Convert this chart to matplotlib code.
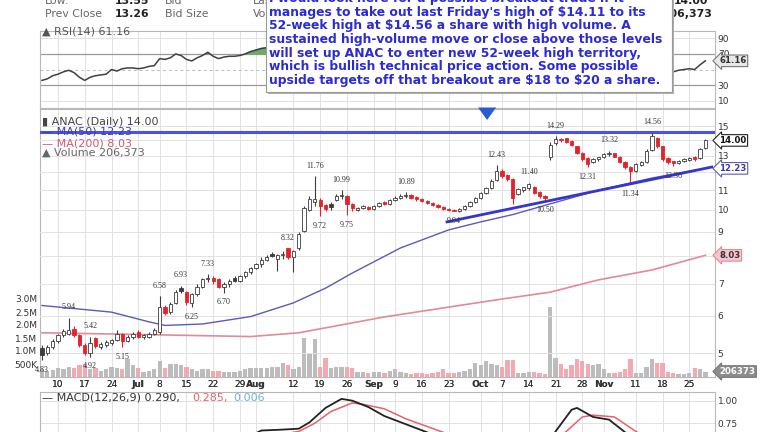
import numpy as np
import pandas as pd
import matplotlib
matplotlib.use('Agg')
import matplotlib.pyplot as plt
from matplotlib.patches import Rectangle

# ANAC daily, Jun - Nov 2019
holidays = ['2019-07-04', '2019-09-02', '2019-11-28']
first = 2  # first visible session (Jun 5) as index into the trading calendar

open_ = [5.13, 5.00, 5.15, 5.30, 5.45, 5.50, 5.62, 5.45, 5.20, 5.00,
         5.38, 5.15, 5.20, 5.25, 5.32, 5.48, 5.30, 5.40, 5.55, 5.40,
         5.42, 5.50, 5.55, 6.25, 6.10, 6.38, 6.85, 6.72, 6.38, 6.65,
         6.90, 7.15, 7.20, 7.15, 6.90, 7.00, 7.20, 7.10, 7.25, 7.40,
         7.55, 7.70, 7.85, 8.10, 7.90, 8.05, 8.30, 7.95, 8.30, 9.05,
         10.00, 10.40, 10.50, 10.25, 10.30, 10.50, 10.70, 10.70, 10.30, 10.00,
         10.10, 10.15, 10.05, 10.20, 10.40, 10.30, 10.50, 10.60, 10.70, 10.75,
         10.65, 10.55, 10.45, 10.35, 10.25, 10.15, 10.05, 10.00, 9.95, 10.05,
         10.20, 10.40, 10.60, 10.85, 11.10, 11.55, 12.10, 11.85, 11.60, 10.80,
         11.00, 11.10, 11.20, 10.90, 10.70, 12.90, 13.80, 14.10, 14.15, 13.95,
         13.60, 13.20, 12.85, 12.60, 12.80, 12.90, 13.10, 13.15, 12.95, 12.60,
         12.30, 12.10, 12.45, 12.60, 13.35, 14.20, 13.60, 12.85, 12.65, 12.55,
         12.70, 12.75, 12.95, 12.85, 13.50]
high = [5.21, 5.20, 5.35, 5.50, 5.62, 5.94, 5.70, 5.50, 5.25, 5.42,
        5.40, 5.27, 5.32, 5.36, 5.60, 5.52, 5.47, 5.55, 5.60, 5.50,
        5.55, 5.65, 6.58, 6.30, 6.40, 6.78, 6.93, 6.75, 6.70, 7.00,
        7.20, 7.33, 7.25, 7.20, 7.05, 7.15, 7.25, 7.30, 7.45, 7.60,
        7.75, 7.95, 8.05, 8.15, 8.10, 8.20, 8.32, 8.25, 9.00, 10.20,
        10.70, 11.76, 10.60, 10.30, 10.40, 10.80, 10.99, 10.75, 10.35, 10.15,
        10.25, 10.20, 10.25, 10.40, 10.45, 10.55, 10.70, 10.80, 10.89, 10.80,
        10.70, 10.60, 10.50, 10.40, 10.30, 10.20, 10.10, 10.05, 10.10, 10.25,
        10.45, 10.65, 10.90, 11.20, 11.60, 12.43, 12.20, 11.90, 11.65, 11.10,
        11.20, 11.40, 11.25, 10.95, 10.75, 13.90, 14.29, 14.20, 14.20, 14.00,
        13.65, 13.25, 12.90, 12.85, 12.95, 13.15, 13.32, 13.20, 13.00, 12.65,
        12.35, 12.55, 12.70, 13.40, 14.56, 14.25, 13.65, 12.90, 12.70, 12.75,
        12.85, 12.90, 13.00, 13.50, 14.10]
low = [4.83, 4.95, 5.10, 5.25, 5.40, 5.45, 5.40, 5.15, 4.95, 4.92,
       5.12, 5.10, 5.15, 5.20, 5.30, 5.15, 5.27, 5.36, 5.38, 5.35,
       5.38, 5.45, 5.50, 6.02, 6.05, 6.35, 6.68, 6.30, 6.25, 6.60,
       6.85, 7.05, 7.00, 6.85, 6.70, 6.90, 7.05, 7.05, 7.20, 7.35,
       7.50, 7.60, 7.80, 7.95, 7.45, 7.90, 7.90, 7.40, 8.25, 9.00,
       9.95, 10.20, 9.72, 9.95, 10.00, 10.45, 10.55, 9.75, 9.95, 9.95,
       10.05, 10.00, 10.00, 10.15, 10.25, 10.25, 10.45, 10.55, 10.60, 10.55,
       10.45, 10.40, 10.30, 10.20, 10.10, 10.00, 9.95, 9.94, 9.90, 10.00,
       10.15, 10.35, 10.55, 10.80, 11.05, 11.50, 11.70, 11.50, 10.30, 10.75,
       10.90, 11.00, 10.80, 10.60, 10.50, 12.75, 13.70, 13.90, 13.85, 13.60,
       13.10, 12.70, 12.31, 12.55, 12.70, 12.85, 13.00, 12.90, 12.55, 12.20,
       11.34, 12.00, 12.40, 12.55, 13.30, 13.50, 12.70, 12.50, 12.36, 12.50,
       12.60, 12.65, 12.70, 12.80, 13.45]
close = [4.95, 5.15, 5.30, 5.45, 5.58, 5.60, 5.45, 5.20, 5.00, 5.25,
         5.17, 5.22, 5.28, 5.32, 5.50, 5.30, 5.42, 5.50, 5.42, 5.45,
         5.50, 5.60, 6.25, 6.08, 6.35, 6.72, 6.75, 6.40, 6.65, 6.90,
         7.15, 7.20, 7.10, 6.90, 7.00, 7.10, 7.10, 7.25, 7.40, 7.55,
         7.70, 7.85, 7.95, 8.00, 8.05, 8.10, 7.95, 8.20, 8.90, 10.10,
         10.55, 10.55, 10.20, 10.05, 10.15, 10.70, 10.75, 10.30, 10.10, 10.10,
         10.20, 10.05, 10.20, 10.35, 10.30, 10.50, 10.60, 10.70, 10.75, 10.60,
         10.55, 10.45, 10.35, 10.25, 10.15, 10.05, 9.98, 9.97, 10.05, 10.20,
         10.40, 10.60, 10.85, 11.10, 11.50, 12.10, 11.80, 11.60, 10.60, 11.05,
         11.15, 11.35, 10.85, 10.70, 10.60, 13.70, 14.10, 14.05, 13.90, 13.70,
         13.20, 12.80, 12.50, 12.80, 12.90, 13.10, 13.15, 12.95, 12.60, 12.30,
         12.05, 12.50, 12.60, 13.30, 14.30, 13.60, 12.80, 12.60, 12.55, 12.70,
         12.80, 12.85, 12.80, 13.40, 14.00]
volume = [0.30, 0.25, 0.28, 0.35, 0.30, 0.40, 0.35, 0.45, 0.50, 0.30,
          0.35, 0.25, 0.30, 0.40, 0.35, 0.30, 0.70, 0.45, 0.35, 0.20,
          0.25, 0.30, 0.60, 0.35, 0.50, 0.50, 0.45, 0.40, 0.30, 0.25,
          0.30, 0.30, 0.25, 0.25, 0.20, 0.20, 0.20, 0.25, 0.30, 0.35,
          0.35, 0.35, 0.35, 0.40, 0.40, 0.55, 0.45, 0.30, 0.40, 1.50,
          0.90, 1.45, 0.40, 0.75, 0.35, 0.40, 0.40, 0.40, 0.35, 0.20,
          0.20, 0.15, 0.20, 0.20, 0.15, 0.25, 0.30, 0.20, 0.15, 0.10,
          0.15, 0.15, 0.12, 0.15, 0.20, 0.30, 0.15, 0.15, 0.20, 0.25,
          0.30, 0.55, 0.45, 0.60, 0.50, 0.45, 0.40, 0.65, 0.65, 0.15,
          0.15, 0.20, 0.20, 0.15, 0.10, 2.70, 0.75, 0.50, 0.30, 0.45,
          0.70, 0.60, 0.50, 0.45, 0.50, 0.30, 0.15, 0.15, 0.20, 0.30,
          0.70, 0.15, 0.15, 0.40, 0.70, 0.55, 0.55, 0.20, 0.15, 0.10,
          0.10, 0.15, 0.35, 0.30, 0.21]
rsi = [36, 38, 42, 44, 47, 49, 46, 40, 36, 40,
       42, 43, 44, 50, 48, 51, 52, 52, 51, 52,
       54, 55, 64, 63, 65, 70, 68, 63, 61, 65,
       68, 72, 67, 64, 66, 67, 67, 68, 70, 73,
       75, 77, 78, 76, 74, 76, 72, 74, 80, 86,
       87, 85, 78, 75, 74, 76, 76, 68, 64, 64,
       65, 63, 64, 66, 64, 66, 67, 68, 68, 64,
       62, 60, 58, 56, 54, 52, 51, 50, 52, 54,
       57, 60, 63, 66, 70, 74, 68, 64, 54, 57,
       58, 60, 55, 53, 52, 72, 75, 74, 71, 68,
       62, 58, 54, 57, 58, 60, 61, 58, 54, 51,
       48, 52, 54, 62, 70, 62, 54, 48, 47, 49,
       50, 51, 50, 56, 61.16]

ma50_day = [2, 15, 22, 25, 32, 41, 49, 55, 60, 69, 78, 84, 90, 97, 106, 116, 126]
ma50 = [6.30, 6.10, 5.82, 5.72, 5.76, 5.97, 6.38, 6.85, 7.37, 8.32, 9.08, 9.44, 9.78, 10.30, 11.00, 11.67, 12.23]
ma200_day = [2, 22, 41, 50, 66, 78, 88, 97, 106, 116, 126]
ma200 = [5.52, 5.47, 5.42, 5.52, 5.96, 6.25, 6.50, 6.72, 7.13, 7.48, 8.03]

macd_day = [30, 36, 40, 43, 47, 50, 52, 55, 58, 60, 63, 66, 70, 74, 78, 84, 88, 92, 96, 98, 101, 102, 105, 108, 111, 116, 121, 126]
macd = [0.20, 0.40, 0.58, 0.67, 0.68, 0.69, 0.76, 0.92, 1.02, 1.00, 0.93, 0.83, 0.74, 0.65, 0.52, 0.42, 0.55, 0.50, 0.45, 0.66, 0.90, 0.92, 0.82, 0.79, 0.65, 0.50, 0.38, 0.29]
signal_day = [30, 40, 44, 48, 50, 53, 56, 60, 62, 66, 70, 77, 85, 92, 97, 100, 103, 105, 109, 113, 118, 126]
signal = [0.15, 0.45, 0.55, 0.64, 0.66, 0.75, 0.88, 0.975, 0.96, 0.91, 0.80, 0.65, 0.50, 0.48, 0.50, 0.66, 0.82, 0.84, 0.82, 0.66, 0.50, 0.285]

# high / low labels printed on the chart
hl_day = [2, 7, 11, 11, 17, 24, 28, 30, 33, 36, 48, 53, 54, 58, 59, 70, 79, 87, 93, 96, 98, 104, 108, 112, 116, 120]
hl_val = [4.83, 5.94, 5.42, 4.92, 5.15, 6.58, 6.93, 6.25, 7.33, 6.70, 8.32, 11.76, 9.72, 10.99, 9.75, 10.89, 9.94,
          12.43, 11.40, 10.50, 14.29, 12.31, 13.32, 11.34, 14.56, 12.36]

resistance = 14.56
trend_day = [77.7, 127.2]
trend_val = [9.44, 12.31]
arrow_day = 85.2

tick_days = ['2019-06-10', '2019-06-17', '2019-06-24', '2019-07-01', '2019-07-08', '2019-07-15',
             '2019-07-22', '2019-07-29', '2019-08-01', '2019-08-12', '2019-08-19', '2019-08-26',
             '2019-09-03', '2019-09-09', '2019-09-16', '2019-09-23', '2019-10-01', '2019-10-07',
             '2019-10-14', '2019-10-21', '2019-10-28', '2019-11-01', '2019-11-11', '2019-11-18',
             '2019-11-25']
tick_labels = ['10', '17', '24', 'Jul', '8', '15', '22', '29', 'Aug', '12', '19', '26', 'Sep', '9',
               '16', '23', 'Oct', '7', '14', '21', '28', 'Nov', '11', '18', '25']
months = {'Jul', 'Aug', 'Sep', 'Oct', 'Nov'}

note = [r"I would look here for a possible breakout trade if it",
        r"manages to take out last Friday's high of \$14.11 to its",
        r"52-week high at \$14.56 a share with high volume. A",
        r"sustained high-volume move or close above those levels",
        r"will set up ANAC to enter new 52-week high territory,",
        r"which is bullish technical price action. Some possible",
        r"upside targets off that breakout are \$18 to \$20 a share."]

# ---- layout helpers (pixel positions in a 768x432 canvas) ----
W, H = 768, 432


def fx(px):
    return px / W


def fy(py):
    return 1 - py / H


def rect(top, bottom):
    return [fx(40), fy(bottom), fx(715) - fx(40), (bottom - top) / H]


sessions = pd.bdate_range('2019-06-03', '2019-11-29')
sessions = sessions[~sessions.isin(pd.to_datetime(holidays))]
tick_pos = [sessions.get_loc(pd.Timestamp(d)) for d in tick_days]
x = np.arange(first, first + len(close))
o, h, l, c = map(np.array, (open_, high, low, close))
prev = np.r_[c[0], c[:-1]]
down = c < prev

grid_c = '#e2e2e2'
spine_c = '#b8b8b8'
xlim = (1.63, 127.8)

fig = plt.figure(figsize=(7.68, 4.32), dpi=100)


def style(a):
    for s in a.spines.values():
        s.set_color(spine_c)
        s.set_linewidth(0.8)
    a.set_xlim(*xlim)
    a.set_xticks(tick_pos)
    for p in tick_pos:
        a.axvline(p, color=grid_c, lw=0.7, zorder=0)
    a.tick_params(length=0, labelsize=6.5, colors='#333333', pad=2)


# ---- RSI panel ----
rsi_ax = fig.add_axes(rect(30.6, 108.4))
style(rsi_ax)
rsi_ax.set_ylim(0, 100)
for lev in (10, 90):
    rsi_ax.axhline(lev, color=grid_c, lw=0.7, zorder=0)
for lev in (30, 70):
    rsi_ax.axhline(lev, color='#9a9a9a', lw=0.9, zorder=1)
rsi_ax.axhline(50, color='#bbbbbb', lw=0.7, ls=(0, (3, 3)), zorder=1)
r = np.array(rsi, dtype=float)
rsi_ax.fill_between(x, r, 70, where=r > 70, interpolate=True, color='#6aab6a', zorder=2)
rsi_ax.plot(x, r, color='#404040', lw=1.1, zorder=3)
rsi_ax.yaxis.tick_right()
rsi_ax.set_yticks([10, 30, 70, 90])
rsi_ax.set_xticklabels([])

# ---- price panel with volume overlay ----
vol_ax = fig.add_axes(rect(109, 377))
style(vol_ax)
vol_ax.set_ylim(0, 268 / 26)
vol_ax.bar(x, volume, width=0.8, color=np.where(down, '#f3a9b2', '#bcbcbc'), zorder=1)
vol_ax.set_yticks([0.5, 1.0, 1.5, 2.0, 2.5, 3.0])
vol_ax.set_yticklabels(['500K', '1.0M', '1.5M', '2.0M', '2.5M', '3.0M'])
vol_ax.set_xticklabels([])

ax = fig.add_axes(rect(109, 377), sharex=vol_ax)
ax.patch.set_alpha(0)
for s in ax.spines.values():
    s.set_visible(False)
ax.set_yscale('log')
ax.set_ylim(4.457, 16.30)
price_ticks = [5, 6, 7, 8, 9, 10, 11, 12, 13, 14, 15]
for p in price_ticks:
    ax.axhline(p, color=grid_c, lw=0.7, zorder=0)
ax.yaxis.tick_right()
ax.set_yticks(price_ticks)
# 8, 12 and 14 sit under the value tags
ax.set_yticklabels(['' if p in (8, 12, 14) else str(p) for p in price_ticks])
ax.yaxis.set_minor_locator(matplotlib.ticker.NullLocator())
ax.tick_params(length=0, labelsize=6.5, colors='#333333', pad=2)
ax.set_xticks(tick_pos)
ax.set_xticklabels(tick_labels)
for t in ax.get_xticklabels():
    if t.get_text() in months:
        t.set_fontweight('bold')

ax.plot(ma200_day, ma200, color='#e08a9a', lw=1.2, zorder=2)
ax.plot(ma50_day, ma50, color='#5b5bb5', lw=1.0, zorder=2)

edge = np.where(down, '#e3232c', '#3c3c3c')
face = np.where(c < o, edge, 'white')
ax.vlines(x, l, h, colors=edge, lw=0.8, zorder=3)
ax.bar(x, c - o, bottom=o, width=0.62, color=face, edgecolor=edge, lw=0.6, zorder=4)

ax.axhline(resistance, color='#4a52ee', lw=2.2, zorder=5)
ax.plot(trend_day, trend_val, color='#3535cf', lw=2.0, zorder=5)
ax.annotate('', xy=(arrow_day, 15.25), xytext=(arrow_day, 16.15),
            arrowprops=dict(arrowstyle='simple,head_width=1.3,head_length=0.9,tail_width=0.7',
                            color='#2a5bd7', lw=0), zorder=6)

for d, v in zip(hl_day, hl_val):
    above = np.isclose(v, h[d - first])
    ax.annotate(f'{v:.2f}', (d, v), xytext=(0, 7.5 if above else -7), textcoords='offset points',
                ha='center', va='center', fontsize=5.8, color='#333333',
                family='Liberation Serif', zorder=7)

# ---- MACD panel (cut by the bottom edge) ----
macd_ax = fig.add_axes(rect(392, 472))
style(macd_ax)
macd_ax.set_ylim(0.211, 1.096)
for lev in (0.5, 0.75, 1.0):
    macd_ax.axhline(lev, color=grid_c, lw=0.7, zorder=0)
macd_ax.plot(signal_day, signal, color='#e8606c', lw=1.1, zorder=2)
macd_ax.plot(macd_day, macd, color='#222222', lw=1.3, zorder=3)
macd_ax.yaxis.tick_right()
macd_ax.set_yticks([0.5, 0.75, 1.0])
macd_ax.set_yticklabels(['0.50', '0.75', '1.00'])
macd_ax.set_xticklabels([])


# ---- right-hand value tags ----
def tag(a, y, text, fc, ec, tc):
    a.text(1.006, y, text, transform=a.get_yaxis_transform(), ha='left', va='center',
           fontsize=6.2, fontweight='bold', color=tc, clip_on=False, zorder=10,
           bbox=dict(boxstyle='larrow,pad=0.15', fc=fc, ec=ec, lw=0.8))


tag(rsi_ax, r[-1], f'{r[-1]:.2f}', '#e8e8e8', '#777777', '#333333')
tag(ax, c[-1], f'{c[-1]:.2f}', 'white', '#222222', '#111111')
tag(ax, ma50[-1], f'{ma50[-1]:.2f}', 'white', '#5b5bb5', '#3d3da8')
tag(ax, ma200[-1], f'{ma200[-1]:.2f}', '#f6c6ce', '#e08a9a', '#333333')
tag(vol_ax, volume[-1], '206373', '#8c8c8c', '#777777', 'white')

# ---- panel legends ----
fs = 8.0
fig.text(fx(42), fy(31), '\u25b2 RSI(14) 61.16', fontsize=fs, color='#555555', va='center')
fig.text(fx(42), fy(122), '\u25ae ANAC (Daily) 14.00', fontsize=fs, color='#444444', va='center')
fig.text(fx(42), fy(132), '\u2014 MA(50) 12.23', fontsize=fs, color='#3d3da8', va='center')
fig.text(fx(42), fy(143), '\u2014 MA(200) 8.03', fontsize=fs, color='#d05a70', va='center')
fig.text(fx(42), fy(153), '\u25b2 Volume 206,373', fontsize=fs, color='#666666', va='center')
fig.text(fx(42), fy(398), '\u2014 MACD(12,26,9) 0.290,', fontsize=fs, color='#333333', va='center')
fig.text(fx(192), fy(398), '0.285,', fontsize=fs, color='#e8606c', va='center')
fig.text(fx(233), fy(398), '0.006', fontsize=fs, color='#6ab4d8', va='center')

# ---- quote header (top edge is cut off) ----
for yy, lab, val, lab2 in [(1, 'Low:', '13.55', 'Bid'), (14, 'Prev Close', '13.26', 'Bid Size')]:
    fig.text(fx(45), fy(yy), lab, fontsize=7.8, color='#666666', va='center')
    fig.text(fx(115), fy(yy), val, fontsize=7.8, color='#222222', fontweight='bold', va='center')
    fig.text(fx(165), fy(yy), lab2, fontsize=7.8, color='#666666', va='center')
fig.text(fx(253), fy(1), 'Last', fontsize=7.8, color='#666666', va='center')
fig.text(fx(253), fy(14), 'Volume', fontsize=7.8, color='#666666', va='center')
fig.text(fx(708), fy(1), '14.00', fontsize=7.8, color='#222222', fontweight='bold', va='center', ha='right')
fig.text(fx(712), fy(14), '206,373', fontsize=7.8, color='#222222', fontweight='bold', va='center', ha='right')

# ---- commentary box ----
fig.patches.append(Rectangle((fx(268), fy(94)), fx(406), 110 / H, transform=fig.transFigure,
                             fc='#b0b0b0', ec='none', zorder=20))
fig.patches.append(Rectangle((fx(266), fy(92)), fx(406), 110 / H, transform=fig.transFigure,
                             fc='white', ec='#9a9a9a', lw=0.8, zorder=21))
for i, line in enumerate(note):
    fig.text(fx(269), fy(-1.5 + 13.65 * i), line, fontsize=8.9, fontweight='bold',
             color='#2a2ad6', va='center', ha='left', zorder=22)

fig.savefig('out.png', dpi=100)
